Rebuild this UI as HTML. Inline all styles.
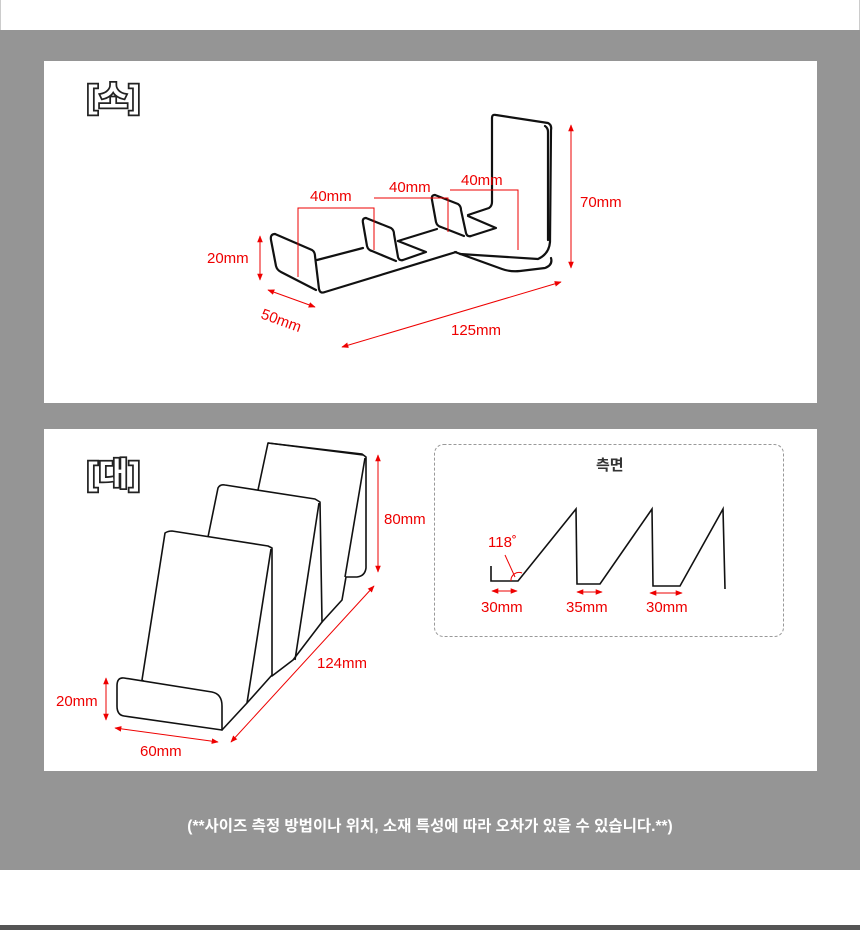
<!DOCTYPE html>
<html><head><meta charset="utf-8"><style>
html,body{margin:0;padding:0;width:860px;height:930px;overflow:hidden;background:#fff}
svg{display:block}
text{font-family:"Liberation Sans","Noto Sans CJK KR",sans-serif}
</style></head><body>
<svg width="860" height="930" viewBox="0 0 860 930" xmlns="http://www.w3.org/2000/svg">
<defs>
<marker id="a" viewBox="0 0 10 10" refX="9" refY="5" markerWidth="7" markerHeight="7" orient="auto-start-reverse"><path d="M0,1 L10,5 L0,9 z" fill="#e00"/></marker>
</defs>
<rect x="0" y="0" width="860" height="30" fill="#fff"/>
<rect x="0" y="0" width="1" height="30" fill="#ccc"/>
<rect x="859" y="0" width="1" height="30" fill="#ccc"/>
<rect x="0" y="30" width="860" height="840" fill="#959595"/>
<rect x="0" y="925" width="860" height="5" fill="#555"/>
<rect x="44" y="61" width="773" height="342" fill="#fff"/>
<rect x="44" y="429" width="773" height="342" fill="#fff"/>

<!-- labels -->
<text x="87" y="108" font-size="32" letter-spacing="1" fill="#fff" stroke="#222" stroke-width="3.5" font-weight="bold" paint-order="stroke">[소]</text>
<text x="87" y="485" font-size="32" letter-spacing="1" fill="#fff" stroke="#222" stroke-width="3.5" font-weight="bold" paint-order="stroke">[대]</text>

<!-- small item -->
<g fill="none" stroke="#111" stroke-width="2.2" stroke-linejoin="round" stroke-linecap="round">
<path d="M275,234 L312,250 Q315,252 315,256 L319,289 Q320,294 325,292 L456,252"/>
<path d="M275,234 Q270,234 271,240 L276,266 Q277,270 281,272 L316,290"/>
<path d="M317,260 L363,248"/>
<path d="M366,218 Q362,218 363,223 L367,246 Q368,250 372,251 L396,261"/>
<path d="M366,218 L391,228 Q394,230 394,234 L398,257 Q399,261 403,260 L426,252 L398,241"/>
<path d="M398,241 L437,229"/>
<path d="M435,195 Q431,195 432,200 L436,222 Q437,226 441,227 L464,236"/>
<path d="M435,195 L458,204 Q461,206 461,210 L466,233 Q467,237 471,236 L496,228 L468,216"/>
<path d="M468,215 L489,208 Q492,206 492,202 L492,118 Q492,114 496,115 L548,123 Q552,125 551,130 L550,242 Q549,254 538,259 L460,254"/>
<path d="M455,252 L502,269 Q510,272 520,271 L545,268 Q553,265 551,258"/>
<path d="M545,126 Q548,128 548,132 L548,240"/>
</g>
<!-- small dims -->
<g stroke="#e00" stroke-width="1" fill="none">
<path d="M298,277 V208 H374 V250"/>
<path d="M374,198 H448 V232"/>
<path d="M450,190 H518 V250"/>
<line x1="260" y1="236" x2="260" y2="280" marker-start="url(#a)" marker-end="url(#a)"/>
<line x1="268" y1="290" x2="315" y2="307" marker-start="url(#a)" marker-end="url(#a)"/>
<line x1="342" y1="347" x2="561" y2="282" marker-start="url(#a)" marker-end="url(#a)"/>
<line x1="571" y1="125" x2="571" y2="268" marker-start="url(#a)" marker-end="url(#a)"/>
</g>
<g fill="#e00" font-size="15">
<text x="310" y="201">40mm</text>
<text x="389" y="192">40mm</text>
<text x="461" y="185">40mm</text>
<text x="580" y="207">70mm</text>
<text x="207" y="263">20mm</text>
<text x="260" y="318" transform="rotate(20 260 318)">50mm</text>
<text x="451" y="335">125mm</text>
</g>

<!-- large item -->
<g fill="#fff" stroke="#111" stroke-width="1.6" stroke-linejoin="round">
<path d="M268,443 L362,454 L366,457 L366,568 Q365,576 357,577 L346,577 L342,600 L322,622 L320,620 L258,490 Z"/>
<path d="M268,443 L363,455"/>
<path d="M365,458 L345,577"/>
<path d="M218,488 Q220,484 225,485 L315,499 L320,502 L322,622 L293,660 L272,676 L208,537 Z"/>
<path d="M319,503 L295,660"/>
<path d="M165,533 Q168,531 172,531 L268,546 L272,548 L272,675 L247,703 L222,730 L142,680 Z"/>
<path d="M271,549 L247,703"/>
<path d="M124,678 L212,692 Q222,694 222,706 L222,730 L124,716 Q117,715 117,706 L117,686 Q117,677 124,678 Z"/>
</g>
<g stroke="#e00" stroke-width="1" fill="none">
<line x1="378" y1="455" x2="378" y2="572" marker-start="url(#a)" marker-end="url(#a)"/>
<line x1="106" y1="678" x2="106" y2="720" marker-start="url(#a)" marker-end="url(#a)"/>
<line x1="115" y1="728" x2="218" y2="742" marker-start="url(#a)" marker-end="url(#a)"/>
<line x1="231" y1="742" x2="374" y2="586" marker-start="url(#a)" marker-end="url(#a)"/>
</g>
<g fill="#e00" font-size="15">
<text x="384" y="524">80mm</text>
<text x="56" y="706">20mm</text>
<text x="140" y="756">60mm</text>
<text x="317" y="668">124mm</text>
</g>

<!-- side view -->
<rect x="434.5" y="444.5" width="349" height="192" rx="9" fill="#fff" stroke="#999" stroke-dasharray="3,2"/>
<text x="596" y="470" font-size="15" font-weight="bold" fill="#333">측면</text>
<path d="M491,566 V581 H518 L576,509 L577,584 H600 L652,509 L653,586 H680 L723,509 L725,589" fill="none" stroke="#111" stroke-width="1.6"/>
<g stroke="#e00" stroke-width="1" fill="none">
<path d="M511,581 A8,8 0 0 1 522,573"/>
<line x1="505" y1="555" x2="515" y2="577"/>
<line x1="492" y1="591" x2="517" y2="591" marker-start="url(#a)" marker-end="url(#a)"/>
<line x1="577" y1="592" x2="602" y2="592" marker-start="url(#a)" marker-end="url(#a)"/>
<line x1="650" y1="593" x2="682" y2="593" marker-start="url(#a)" marker-end="url(#a)"/>
</g>
<g fill="#e00" font-size="15">
<text x="488" y="547">118˚</text>
<text x="481" y="612">30mm</text>
<text x="566" y="612">35mm</text>
<text x="646" y="612">30mm</text>
</g>

<text x="430" y="831" font-size="15.5" font-weight="bold" fill="#fff" text-anchor="middle">(**사이즈 측정 방법이나 위치, 소재 특성에 따라 오차가 있을 수 있습니다.**)</text>
</svg>
</body></html>
